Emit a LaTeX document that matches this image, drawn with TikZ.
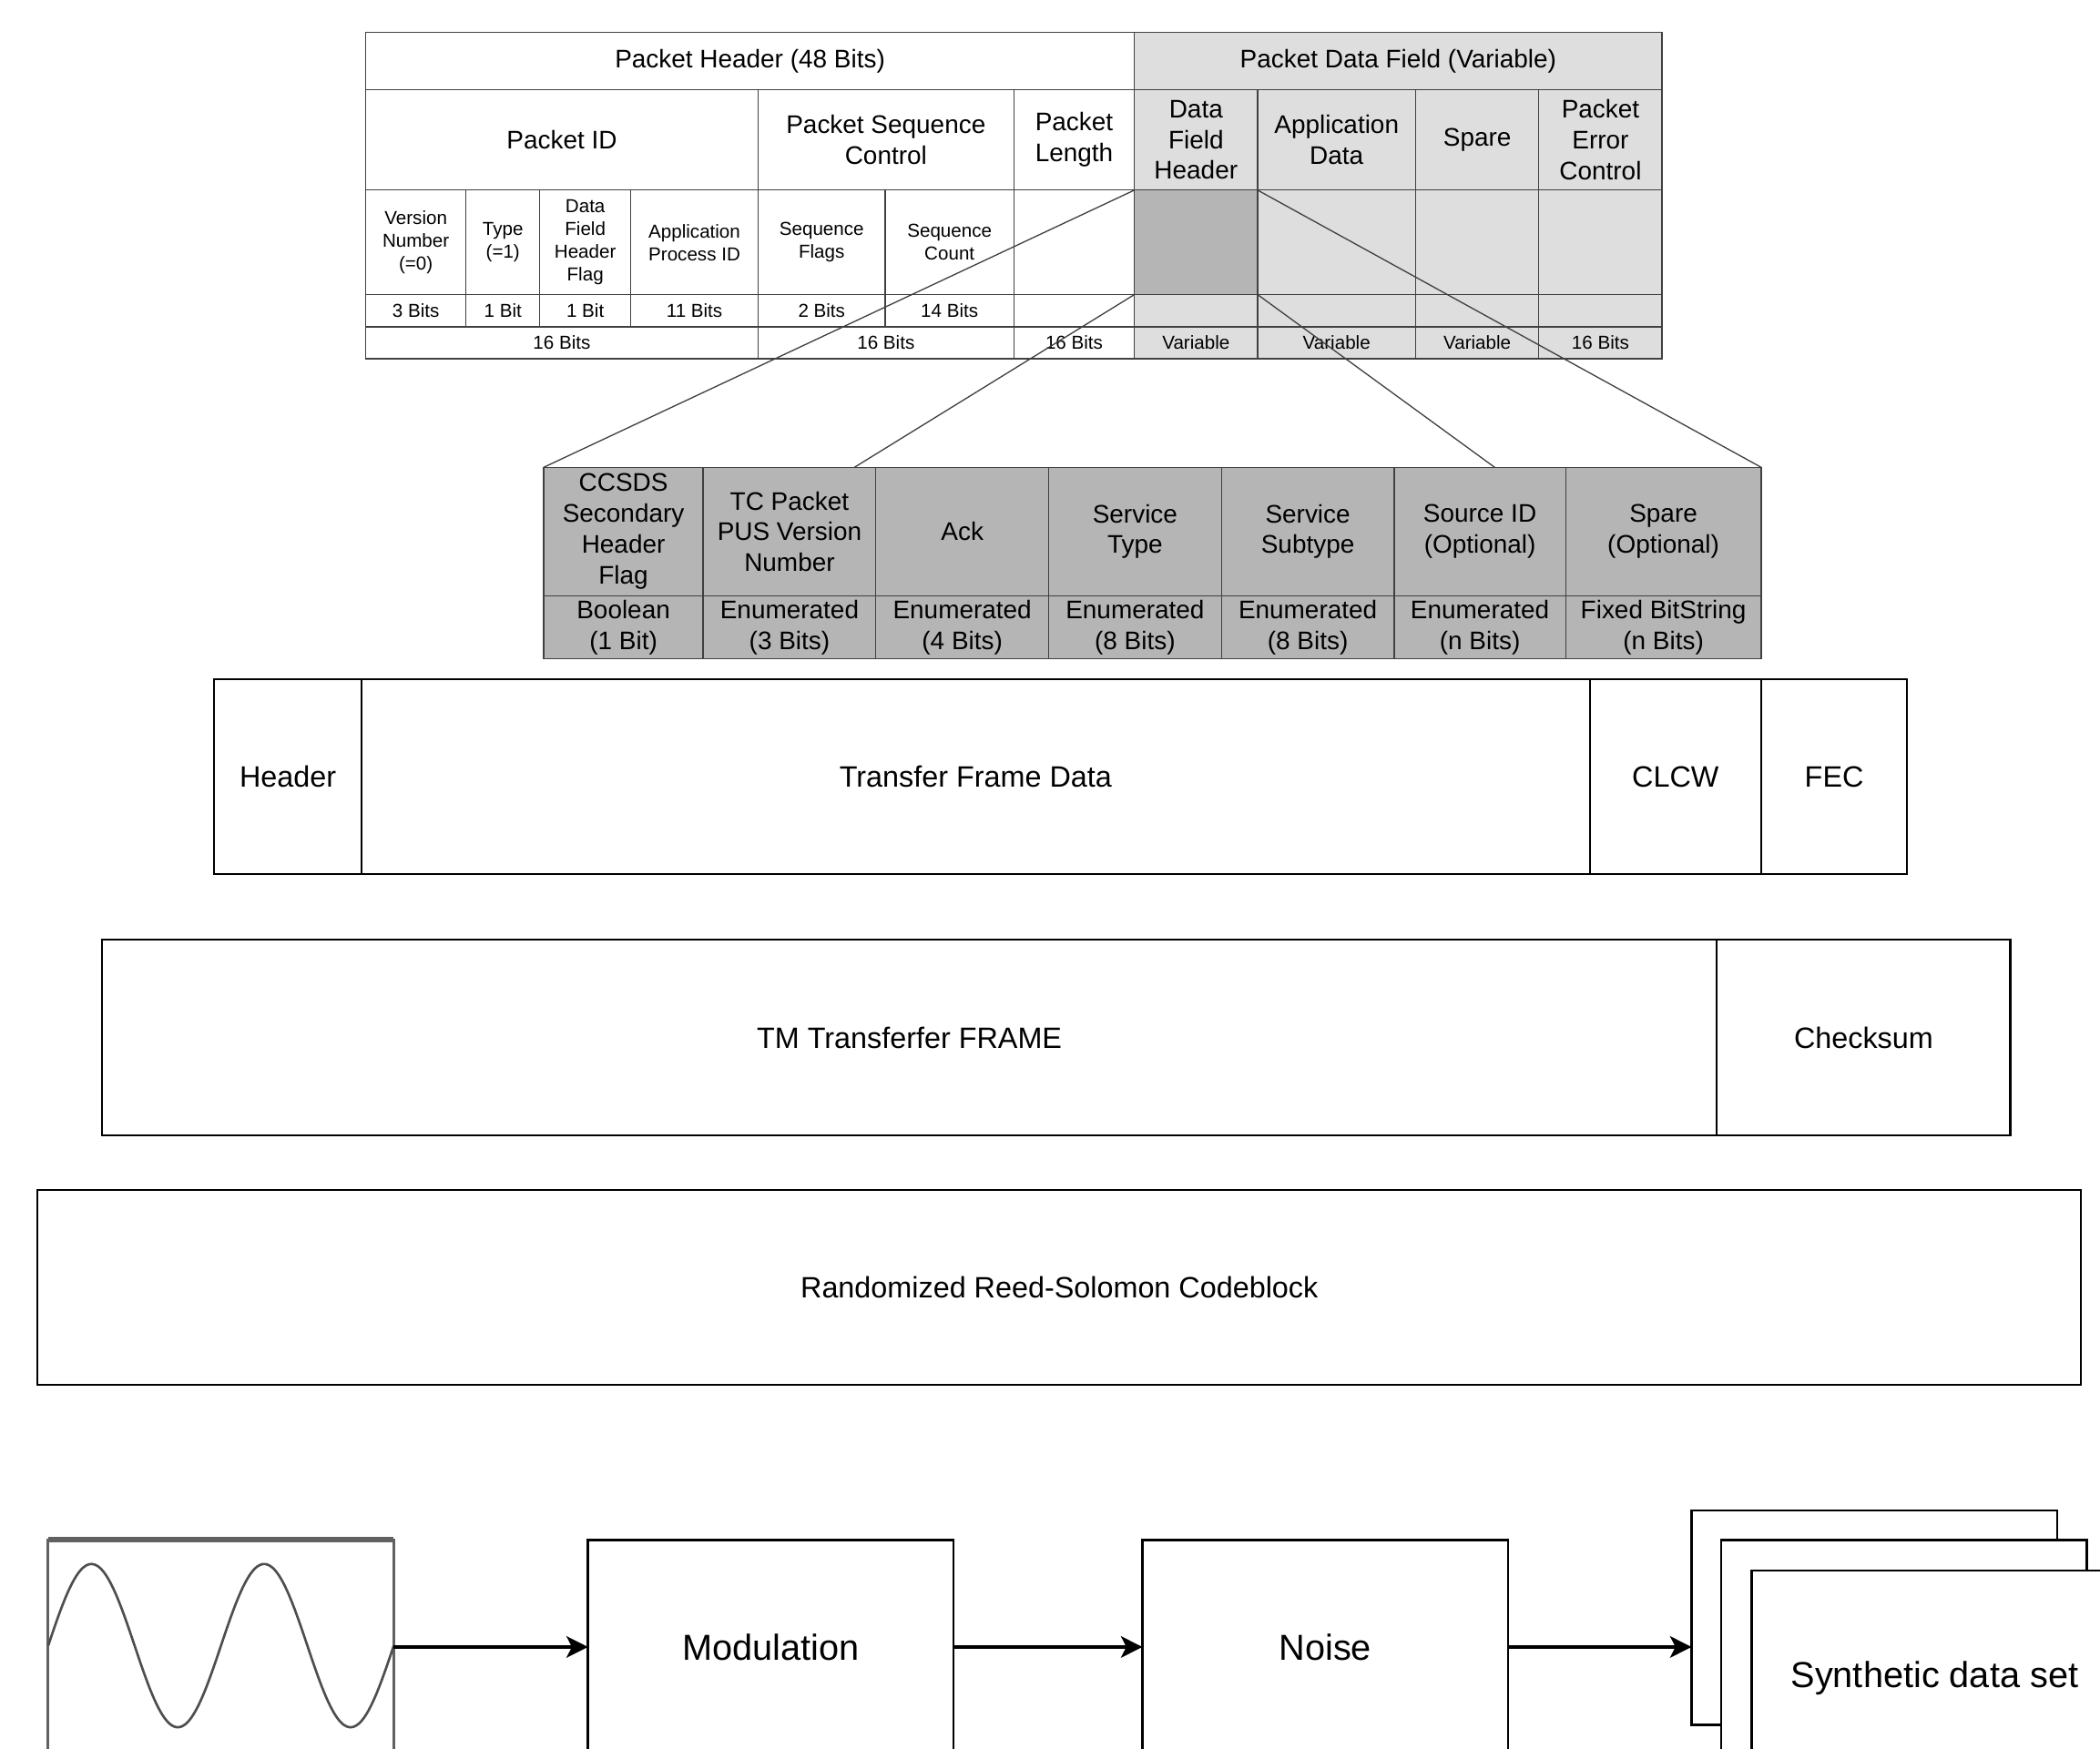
\documentclass[tikz,border=0pt]{standalone}
\usepackage{fontspec}
\setmainfont{Liberation Sans}
\usetikzlibrary{positioning, arrows.meta}

\definecolor{pdflight}{gray}{0.87}
\definecolor{pdfdark}{gray}{0.71}
\definecolor{rulegray}{gray}{0.25}
\definecolor{wavegray}{gray}{0.38}

\tikzset{cellsize/.style 2 args={minimum width=#1pt, minimum height=#2pt}}

\begin{document}
\begin{tikzpicture}[
    x=1pt, y=-1pt,
    field/.style={rectangle, draw=rulegray, line width=0.9pt, anchor=north west, inner sep=0pt, outer sep=0pt, align=center, font=\fontsize{19}{23}\selectfont},
    bits/.style={field, font=\fontsize{14}{17}\selectfont},
    frame/.style={rectangle, draw, line width=1.4pt, anchor=north west, inner sep=0pt, outer sep=0pt, minimum height=146pt, font=\fontsize{22}{26}\selectfont},
    stage/.style={rectangle, draw, line width=1.8pt, fill=white, minimum width=273pt, minimum height=160pt, inner sep=0pt, outer sep=0pt, font=\fontsize{27}{32}\selectfont},
    zoomline/.style={rulegray, line width=0.9pt},
    flow/.style={-{Stealth[length=16pt, width=16pt, inset=4pt]}, line width=2.4pt}
]
\useasboundingbox (0,0) rectangle (1568,1306);
\clip (0,0) rectangle (1568,1306);

% packet layout
\node[field, cellsize={574}{43}] (hdr) at (273,24) {Packet Header (48 Bits)};
\node[field, fill=pdflight, cellsize={394}{43}] (pdf) at (847,24) {Packet Data Field (Variable)};

\node[field, cellsize={293}{75}] (pid) at (273,67) {Packet ID};
\node[field, cellsize={191}{75}] (psc) at (566,67) {Packet Sequence\\Control};
\node[field, cellsize={90}{75}] (plen) at (757,67) {Packet\\Length};
\node[field, fill=pdflight, cellsize={92}{75}] (dfh) at (847,67) {Data\\Field\\Header};
\node[field, fill=pdflight, cellsize={118}{75}] (appdata) at (939,67) {Application\\Data};
\node[field, fill=pdflight, cellsize={92}{75}] (spare) at (1057,67) {Spare};
\node[field, fill=pdflight, cellsize={92}{75}] (pec) at (1149,67) {Packet\\Error\\Control};

\node[bits, cellsize={75}{78}] (ver) at (273,142) {Version\\Number\\(=0)};
\node[bits, cellsize={55}{78}] (type) at (348,142) {Type\\(=1)};
\node[bits, cellsize={68}{78}] (dfhflag) at (403,142) {Data\\Field\\Header\\Flag};
\node[bits, cellsize={95}{78}] (apid) at (471,142) {Application\\Process ID};
\node[bits, cellsize={95}{78}] (seqflags) at (566,142) {Sequence\\Flags};
\node[bits, cellsize={96}{78}] (seqcount) at (661,142) {Sequence\\Count};
\node[bits, cellsize={90}{78}] (plenfree) at (757,142) {};
\node[bits, fill=pdfdark, cellsize={92}{78}] (dfhopen) at (847,142) {};
\node[bits, fill=pdflight, cellsize={118}{78}] (appfree) at (939,142) {};
\node[bits, fill=pdflight, cellsize={92}{78}] (sparefree) at (1057,142) {};
\node[bits, fill=pdflight, cellsize={92}{78}] (pecfree) at (1149,142) {};

\node[bits, cellsize={75}{24}] (verbits) at (273,220) {3 Bits};
\node[bits, cellsize={55}{24}] (typebits) at (348,220) {1 Bit};
\node[bits, cellsize={68}{24}] (flagbits) at (403,220) {1 Bit};
\node[bits, cellsize={95}{24}] (apidbits) at (471,220) {11 Bits};
\node[bits, cellsize={95}{24}] (seqflagbits) at (566,220) {2 Bits};
\node[bits, cellsize={96}{24}] (seqcountbits) at (661,220) {14 Bits};
\node[bits, cellsize={90}{24}] (plenbits) at (757,220) {};
\node[bits, fill=pdflight, cellsize={92}{24}] (dfhbits) at (847,220) {};
\node[bits, fill=pdflight, cellsize={118}{24}] (appbits) at (939,220) {};
\node[bits, fill=pdflight, cellsize={92}{24}] (sparebits) at (1057,220) {};
\node[bits, fill=pdflight, cellsize={92}{24}] (pecbits) at (1149,220) {};

\node[bits, cellsize={293}{24}] (pidlen) at (273,244) {16 Bits};
\node[bits, cellsize={191}{24}] (psclen) at (566,244) {16 Bits};
\node[bits, cellsize={90}{24}] (plenlen) at (757,244) {16 Bits};
\node[bits, fill=pdflight, cellsize={92}{24}] (dfhlen) at (847,244) {Variable};
\node[bits, fill=pdflight, cellsize={118}{24}] (applen) at (939,244) {Variable};
\node[bits, fill=pdflight, cellsize={92}{24}] (sparelen) at (1057,244) {Variable};
\node[bits, fill=pdflight, cellsize={92}{24}] (peclen) at (1149,244) {16 Bits};

% data field header, opened up
\node[field, fill=pdfdark, cellsize={119}{96}] (ccsds) at (406,349) {CCSDS\\Secondary\\Header\\Flag};
\node[field, fill=pdfdark, cellsize={129}{96}] (pusver) at (525,349) {TC Packet\\PUS Version\\Number};
\node[field, fill=pdfdark, cellsize={129}{96}] (ack) at (654,349) {Ack};
\node[field, fill=pdfdark, cellsize={129}{96}] (stype) at (783,349) {Service\\Type};
\node[field, fill=pdfdark, cellsize={129}{96}] (ssub) at (912,349) {Service\\Subtype};
\node[field, fill=pdfdark, cellsize={128}{96}] (srcid) at (1041,349) {Source ID\\(Optional)};
\node[field, fill=pdfdark, cellsize={146}{96}] (opt) at (1169,349) {Spare\\(Optional)};

\node[field, fill=pdfdark, cellsize={119}{47}] (ccsdsfmt) at (406,445) {Boolean\\(1 Bit)};
\node[field, fill=pdfdark, cellsize={129}{47}] (pusverfmt) at (525,445) {Enumerated\\(3 Bits)};
\node[field, fill=pdfdark, cellsize={129}{47}] (ackfmt) at (654,445) {Enumerated\\(4 Bits)};
\node[field, fill=pdfdark, cellsize={129}{47}] (stypefmt) at (783,445) {Enumerated\\(8 Bits)};
\node[field, fill=pdfdark, cellsize={129}{47}] (ssubfmt) at (912,445) {Enumerated\\(8 Bits)};
\node[field, fill=pdfdark, cellsize={128}{47}] (srcidfmt) at (1041,445) {Enumerated\\(n Bits)};
\node[field, fill=pdfdark, cellsize={146}{47}] (optfmt) at (1169,445) {Fixed BitString\\(n Bits)};

\coordinate (pusedge) at (638,349);
\coordinate (srcedge) at (1116,349);
\draw[zoomline] (dfhopen.north west) -- (ccsds.north west);
\draw[zoomline] (dfhopen.south west) -- (pusedge);
\draw[zoomline] (dfhopen.north east) -- (opt.north east);
\draw[zoomline] (dfhopen.south east) -- (srcedge);

% frames
\node[frame, minimum width=110pt] (tfhdr) at (160,507) {Header};
\node[frame, minimum width=917pt] (tfdata) at (270,507) {Transfer Frame Data};
\node[frame, minimum width=128pt] (clcw) at (1187,507) {CLCW};
\node[frame, minimum width=109pt] (fec) at (1315,507) {FEC};

\node[frame, minimum width=1206pt] (tm) at (76,702) {TM Transferfer FRAME};
\node[frame, minimum width=219pt] (checksum) at (1282,702) {Checksum};

\node[frame, minimum width=1526pt, minimum height=145pt] (rs) at (28,889) {Randomized Reed-Solomon Codeblock};

% signal chain
\node[stage, draw=wavegray, line width=2pt, minimum width=258pt, anchor=north west] (wave) at (36,1150) {};
\draw[wavegray, line width=4pt] (wave.north west) -- (wave.north east);
\draw[wavegray!80!black, line width=1.8pt] plot[domain=0:258, samples=120, smooth] ({36+\x}, {1229-61*sin(2.7907*\x)});

\node[stage, right=145pt of wave] (mod) {Modulation};
\node[stage, right=141pt of mod] (noise) {Noise};
\node[stage, right=137pt of noise, yshift=22pt] (set1) {};
\node[stage] (set2) at ([shift={(22,22)}]set1.center) {};
\node[stage] (set3) at ([shift={(23,23)}]set2.center) {Synthetic data set};

\draw[flow] (wave) -- (mod);
\draw[flow] (mod) -- (noise);
\draw[flow] (noise.east) -- (noise.east -| set1.west);

\end{tikzpicture}
\end{document}
